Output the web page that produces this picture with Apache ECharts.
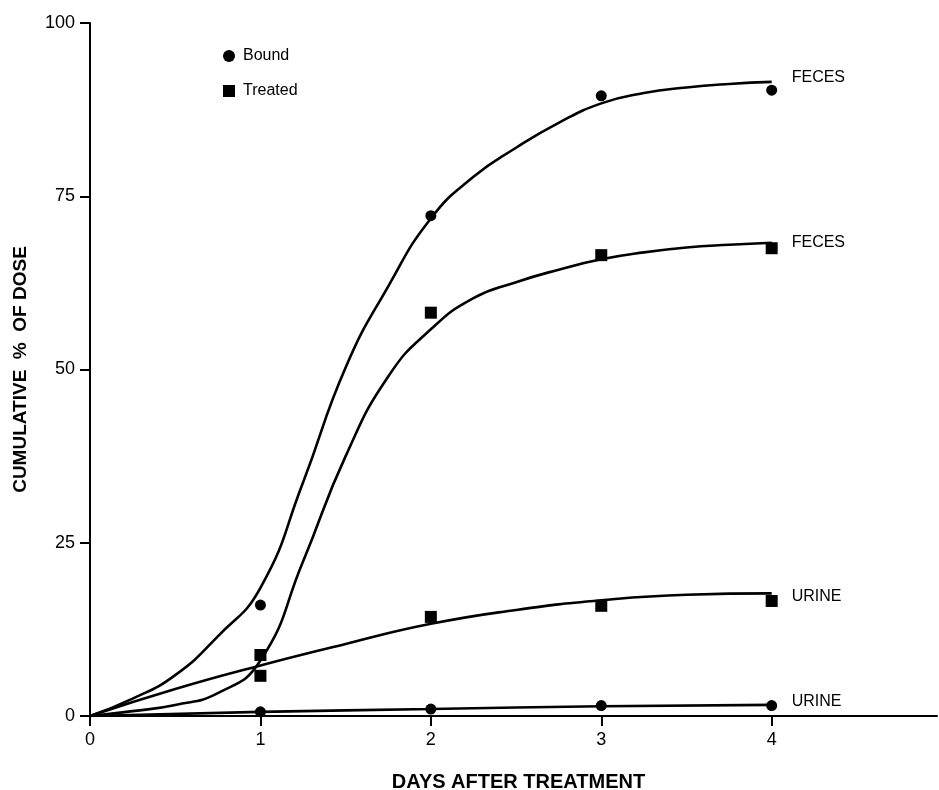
<!DOCTYPE html>
<html>
<head>
<meta charset="utf-8">
<script src="https://cdn.jsdelivr.net/npm/echarts@6/dist/echarts.min.js"></script>
<style>
html,body{margin:0;padding:0;background:#fff;}
#chart{width:939px;height:790px;}
</style>
</head>
<body>
<div id="chart"></div>
<script>
// Measured points (days 1..4)
var pointDays = [1, 2, 3, 4];
var boundFeces = [16.0, 72.2, 89.5, 90.3];
var treatedFeces = [8.8, 58.2, 66.5, 67.5];
var treatedUrine = [5.8, 14.3, 15.9, 16.6];
var boundUrine = [0.6, 1.0, 1.5, 1.5];

// Fitted curves
var curveX = [0, 0.25, 0.5, 0.75, 1, 1.25, 1.5, 1.75, 2, 2.25, 2.5, 2.75, 3, 3.25, 3.5, 3.75, 4];
var curveBoundFeces = [0, 2.5, 5.9, 11.5, 18.5, 33.7, 50.3, 62, 71.8, 77.8, 82, 85.6, 88.4, 89.9, 90.7, 91.2, 91.5];
var curveTreatedFeces = [0, 0.7, 1.6, 3.3, 8, 22.3, 37.5, 49, 55.8, 60.3, 62.6, 64.4, 65.9, 66.9, 67.6, 68.0, 68.3];
var curveUrineX = [0, 0.5, 1, 1.5, 2, 2.5, 3, 3.5, 4];
var curveTreatedUrine = [0, 3.9, 7.3, 10.4, 13.3, 15.3, 16.7, 17.5, 17.7];
var curveBoundUrineX = [0, 1, 2, 3, 4];
var curveBoundUrine = [0, 0.6, 1.0, 1.4, 1.6];

var xTicks = [0, 1, 2, 3, 4];
var yTicks = [0, 25, 50, 75, 100];
var curveLabels = ['FECES', 'FECES', 'URINE', 'URINE'];

var FONT = '"Liberation Sans", Arial, Helvetica, sans-serif';

function pairs(xs, ys) { return xs.map(function (x, i) { return [x, ys[i]]; }); }

function curve(name, data, text, offY) {
  return {
    name: name, type: 'line', data: data, smooth: 0.5,
    showSymbol: false, symbol: 'none',
    lineStyle: { color: '#000', width: 2.6 }, silent: true, z: 2,
    endLabel: {
      show: true, formatter: text, distance: 20, offset: [0, offY],
      color: '#000', fontFamily: FONT, fontSize: 16
    }
  };
}
function pts(name, ys, symbol, size) {
  return {
    name: name, type: 'scatter', data: pairs(pointDays, ys), symbol: symbol, symbolSize: size,
    itemStyle: { color: '#000', opacity: 1 }, z: 3
  };
}

var chart = echarts.init(document.getElementById('chart'), null, { renderer: 'canvas' });
chart.setOption({
  backgroundColor: '#fff',
  animation: false,
  textStyle: { fontFamily: FONT },
  grid: { left: 90, right: 2, top: 23, bottom: 74, containLabel: false, outerBoundsMode: 'none' },
  legend: {
    data: [{ name: 'Bound', icon: 'circle' }, { name: 'Treated', icon: 'rect' }],
    orient: 'vertical', left: 223, top: 48, padding: 0, itemWidth: 12, itemHeight: 12, itemGap: 19,
    textStyle: { fontSize: 16, color: '#000', fontFamily: FONT, padding: [0, 0, 0, 3] }, selectedMode: false
  },
  xAxis: {
    type: 'value', min: 0, max: 4.97, interval: 1,
    name: 'DAYS AFTER TREATMENT', nameLocation: 'middle', nameGap: 56,
    nameTextStyle: { fontSize: 20, fontWeight: 'bold', color: '#000', fontFamily: FONT, padding: [0, 0, 0, 10] },
    axisLine: { show: true, onZero: false, lineStyle: { color: '#000', width: 2 } },
    axisTick: { show: true, inside: false, length: 10, lineStyle: { color: '#000', width: 2 }, customValues: xTicks },
    axisLabel: { fontSize: 18, color: '#000', margin: 15, fontFamily: FONT, customValues: xTicks,
      formatter: function (v) { return xTicks.indexOf(v) >= 0 ? String(v) : ''; } },
    splitLine: { show: false }
  },
  yAxis: {
    type: 'value', min: 0, max: 100, interval: 25,
    name: 'CUMULATIVE  %  OF DOSE', nameLocation: 'middle', nameGap: 60, nameRotate: 90,
    nameTextStyle: { fontSize: 19, fontWeight: 'bold', color: '#000', fontFamily: FONT },
    axisLine: { show: true, onZero: false, lineStyle: { color: '#000', width: 2 } },
    axisTick: { show: true, inside: false, length: 10, lineStyle: { color: '#000', width: 2 } },
    axisLabel: { fontSize: 18, color: '#000', margin: 15, fontFamily: FONT,
      formatter: function (v) { return yTicks.indexOf(v) >= 0 ? String(v) : ''; } },
    splitLine: { show: false }
  },
  series: [
    curve('Bound feces curve', pairs(curveX, curveBoundFeces), curveLabels[0], -4),
    curve('Treated feces curve', pairs(curveX, curveTreatedFeces), curveLabels[1], 0),
    curve('Treated urine curve', pairs(curveUrineX, curveTreatedUrine), curveLabels[2], 3),
    curve('Bound urine curve', pairs(curveBoundUrineX, curveBoundUrine), curveLabels[3], -3),
    pts('Bound', boundFeces, 'circle', 11),
    pts('Bound', boundUrine, 'circle', 11),
    pts('Treated', treatedFeces, 'rect', 12),
    pts('Treated', treatedUrine, 'rect', 12)
  ]
});
</script>
</body>
</html>
